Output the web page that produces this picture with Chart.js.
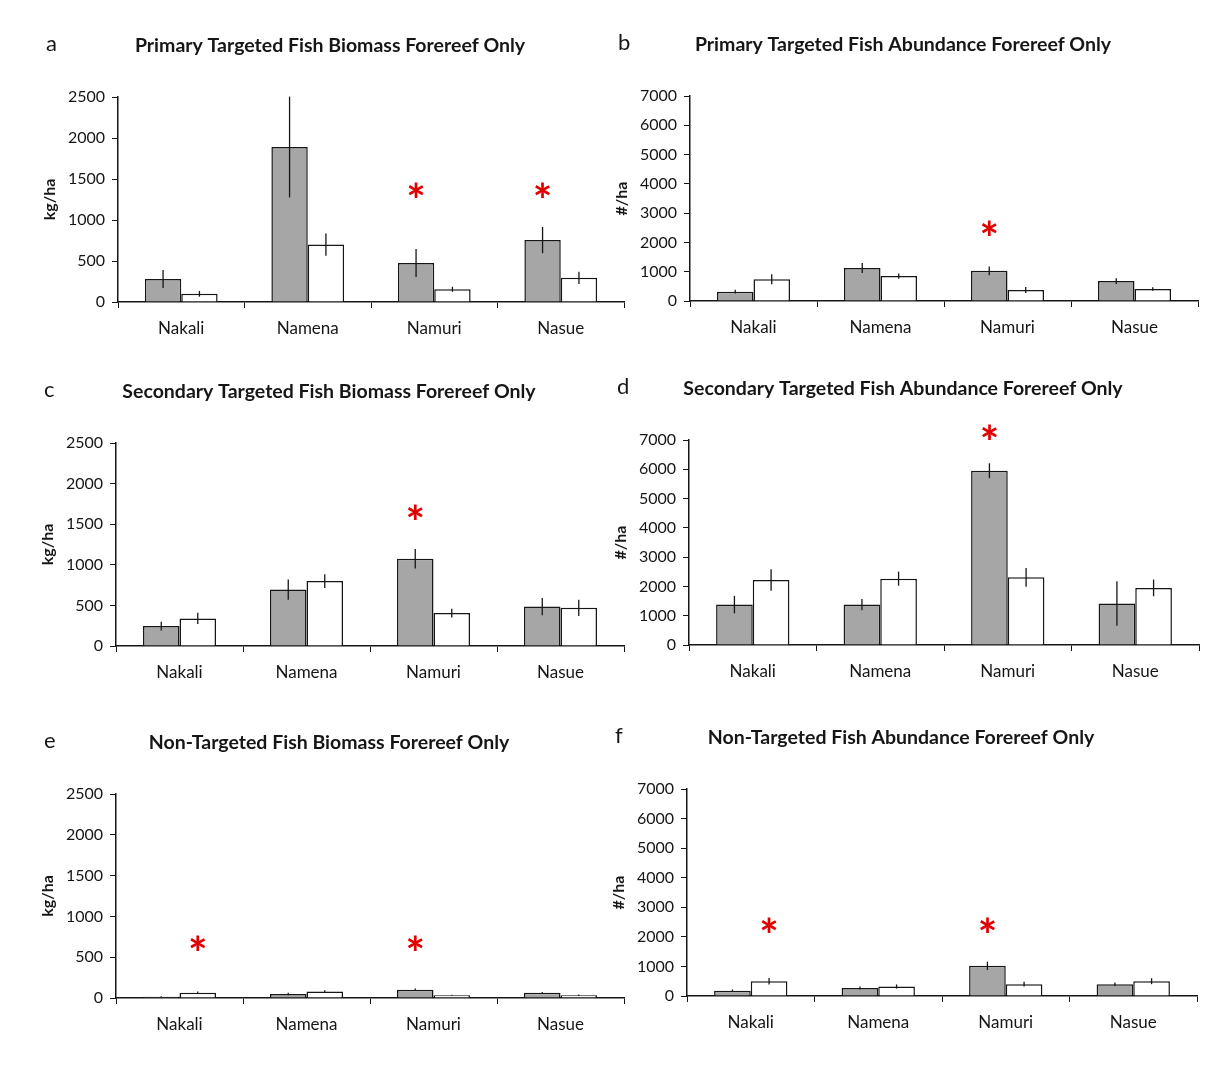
<!DOCTYPE html>
<html>
<head>
<meta charset="utf-8">
<title>Forereef fish biomass and abundance</title>
<script src="https://cdn.jsdelivr.net/npm/chart.js@4.4.1/dist/chart.umd.min.js"></script>
<style>
  body { margin: 0; background: #fff; }
  #page { position: relative; width: 1208px; height: 1068px; overflow: hidden; }
  #page canvas { position: absolute; }
</style>
</head>
<body>
<div id="page"></div>
<script>
const sites = ['Nakali', 'Namena', 'Namuri', 'Nasue'];

// a - primary targeted biomass (kg/ha)
const primBioGray = [280, 1890, 475, 755];
const primBioGrayErr = [110, 615, 170, 160];
const primBioWhite = [100, 700, 155, 295];
const primBioWhiteErr = [35, 135, 30, 75];
const primBioStars = [[2, 0, 1360], [3, 0, 1360]];

// b - primary targeted abundance (#/ha)
const primAbGray = [320, 1130, 1030, 680];
const primAbGrayErr = [60, 170, 150, 100];
const primAbWhite = [740, 850, 375, 410];
const primAbWhiteErr = [170, 90, 100, 60];
const primAbStars = [[2, 0, 2500]];

// c - secondary targeted biomass (kg/ha)
const secBioGray = [245, 695, 1075, 485];
const secBioGrayErr = [55, 125, 120, 105];
const secBioWhite = [340, 800, 405, 470];
const secBioWhiteErr = [70, 85, 55, 100];
const secBioStars = [[2, 0, 1650]];

// d - secondary targeted abundance (#/ha)
const secAbGray = [1380, 1380, 5950, 1420];
const secAbGrayErr = [300, 190, 255, 760];
const secAbWhite = [2220, 2265, 2310, 1950];
const secAbWhiteErr = [365, 240, 320, 285];
const secAbStars = [[2, 0, 7260]];

// e - non-targeted biomass (kg/ha)
const nonBioGray = [15, 50, 100, 65];
const nonBioGrayErr = [5, 15, 15, 10];
const nonBioWhite = [65, 80, 35, 35];
const nonBioWhiteErr = [15, 15, 5, 8];
const nonBioStars = [[0, 1, 670], [2, 0, 670]];

// f - non-targeted abundance (#/ha)
const nonAbGray = [180, 270, 1020, 400];
const nonAbGrayErr = [40, 50, 140, 60];
const nonAbWhite = [500, 320, 400, 500];
const nonAbWhiteErr = [110, 70, 80, 100];
const nonAbStars = [[0, 1, 2400], [2, 0, 2400]];

const bioTicks = { max: 2500, step: 500, unit: 'kg/ha' };
const abTicks = { max: 7000, step: 1000, unit: '#/ha' };

const panels = [
  { letter: 'a', title: 'Primary Targeted Fish Biomass Forereef Only', axis: bioTicks,
    gray: primBioGray, grayErr: primBioGrayErr, white: primBioWhite, whiteErr: primBioWhiteErr, stars: primBioStars,
    area: [118, 97, 506, 205] },
  { letter: 'b', title: 'Primary Targeted Fish Abundance Forereef Only', axis: abTicks,
    gray: primAbGray, grayErr: primAbGrayErr, white: primAbWhite, whiteErr: primAbWhiteErr, stars: primAbStars,
    area: [690, 96, 508, 205] },
  { letter: 'c', title: 'Secondary Targeted Fish Biomass Forereef Only', axis: bioTicks,
    gray: secBioGray, grayErr: secBioGrayErr, white: secBioWhite, whiteErr: secBioWhiteErr, stars: secBioStars,
    area: [116, 443, 508, 203] },
  { letter: 'd', title: 'Secondary Targeted Fish Abundance Forereef Only', axis: abTicks,
    gray: secAbGray, grayErr: secAbGrayErr, white: secAbWhite, whiteErr: secAbWhiteErr, stars: secAbStars,
    area: [689, 440, 510, 205] },
  { letter: 'e', title: 'Non-Targeted Fish Biomass Forereef Only', axis: bioTicks,
    gray: nonBioGray, grayErr: nonBioGrayErr, white: nonBioWhite, whiteErr: nonBioWhiteErr, stars: nonBioStars,
    area: [116, 794, 508, 204] },
  { letter: 'f', title: 'Non-Targeted Fish Abundance Forereef Only', axis: abTicks,
    gray: nonAbGray, grayErr: nonAbGrayErr, white: nonAbWhite, whiteErr: nonAbWhiteErr, stars: nonAbStars,
    area: [687, 789, 510, 207] }
];

const INK = '#161616';
const FONT = 'Lato';

// vertical error whiskers, no caps
const errorBars = {
  id: 'errorBars',
  afterDatasetsDraw(chart) {
    const { ctx } = chart;
    const y = chart.scales.y;
    ctx.save();
    ctx.strokeStyle = INK;
    ctx.lineWidth = 1.3;
    chart.data.datasets.forEach((ds, d) => {
      chart.getDatasetMeta(d).data.forEach((bar, i) => {
        const v = ds.data[i], e = ds.err[i];
        ctx.beginPath();
        ctx.moveTo(bar.x, y.getPixelForValue(v + e));
        ctx.lineTo(bar.x, y.getPixelForValue(Math.max(v - e, 0)));
        ctx.stroke();
      });
    });
    ctx.restore();
  }
};

// panel letter, title, unit label and significance stars
const panelText = {
  id: 'panelText',
  afterDraw(chart, args, opts) {
    const { ctx, chartArea: a } = chart;
    ctx.save();
    ctx.fillStyle = INK;
    ctx.textBaseline = 'middle';
    ctx.textAlign = 'left';
    ctx.font = `22px ${FONT}`;
    ctx.fillText(opts.letter, a.left - 72, a.top - 53);
    ctx.textAlign = 'center';
    ctx.font = `bold 19.5px ${FONT}`;
    ctx.fillText(opts.title, (a.left + a.right) / 2 - 41, a.top - 51);
    ctx.save();
    ctx.translate(a.left - 68, (a.top + a.bottom) / 2);
    ctx.rotate(-Math.PI / 2);
    ctx.font = `bold 16px ${FONT}`;
    ctx.fillText(opts.unit, 0, 0);
    ctx.restore();

    ctx.fillStyle = '#e00000';
    ctx.font = `bold 46px ${FONT}`;
    ctx.textBaseline = 'alphabetic';
    const m = ctx.measureText('*');
    const mid = (m.actualBoundingBoxAscent - m.actualBoundingBoxDescent) / 2;
    opts.stars.forEach(([cat, ds, val]) => {
      const bar = chart.getDatasetMeta(ds).data[cat];
      ctx.fillText('*', bar.x, chart.scales.y.getPixelForValue(val) + mid);
    });
    ctx.restore();
  }
};

const PAD_L = 118, PAD_T = 97, PAD_R = 24, PAD_B = 50;
const Y_W = 60, X_H = 42;
const page = document.getElementById('page');

panels.forEach(p => {
  const [x, y, w, h] = p.area;
  const cv = document.createElement('canvas');
  cv.width = PAD_L + w + PAD_R;
  cv.height = PAD_T + h + PAD_B;
  cv.style.left = (x - PAD_L) + 'px';
  cv.style.top = (y - PAD_T) + 'px';
  page.appendChild(cv);

  const barStyle = { borderColor: INK, borderWidth: 1.5, categoryPercentage: 0.575, barPercentage: 1 };

  new Chart(cv, {
    type: 'bar',
    data: {
      labels: sites,
      datasets: [
        { data: p.gray, err: p.grayErr, backgroundColor: '#a6a6a6', ...barStyle },
        { data: p.white, err: p.whiteErr, backgroundColor: '#ffffff', ...barStyle }
      ]
    },
    options: {
      responsive: false,
      animation: false,
      layout: { padding: { left: PAD_L - Y_W, top: PAD_T, right: PAD_R, bottom: PAD_B - X_H } },
      plugins: {
        legend: { display: false },
        tooltip: { enabled: false },
        panelText: { letter: p.letter, title: p.title, unit: p.axis.unit, stars: p.stars }
      },
      scales: {
        x: {
          grid: { drawOnChartArea: false, tickLength: 6, color: INK, offset: true },
          border: { color: INK, width: 1.5 },
          ticks: { color: INK, font: { family: FONT, size: 17 }, padding: 10 },
          afterFit: s => { s.height = X_H; }
        },
        y: {
          min: 0,
          max: p.axis.max,
          grid: { drawOnChartArea: false, tickLength: 6, color: INK },
          border: { color: INK, width: 1.5 },
          ticks: { stepSize: p.axis.step, color: INK, font: { family: FONT, size: 16 }, padding: 7,
                   callback: v => String(v) },
          afterFit: s => { s.width = Y_W; }
        }
      }
    },
    plugins: [errorBars, panelText]
  });
});
</script>
</body>
</html>
